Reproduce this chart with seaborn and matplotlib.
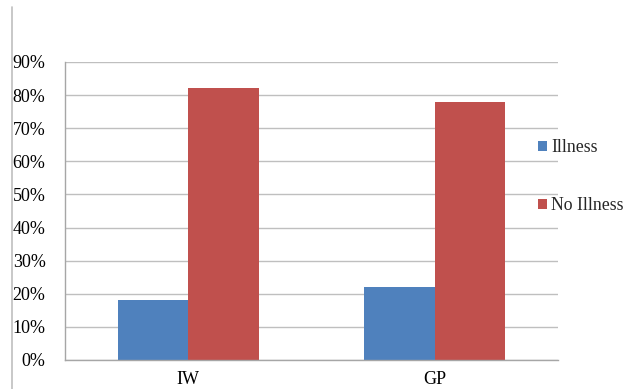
import matplotlib
matplotlib.use("Agg")
import matplotlib.pyplot as plt
from matplotlib.lines import Line2D
from matplotlib.ticker import FuncFormatter, MultipleLocator
import pandas as pd
import seaborn as sns

groups = ["IW", "GP"]
series = ["Illness", "No Illness"]
illness = [18, 22]
no_illness = [82, 78]
colors = ["#4F81BD", "#C0504D"]

df = pd.DataFrame({
    "group": groups * 2,
    "status": [series[0]] * 2 + [series[1]] * 2,
    "value": illness + no_illness,
})

sns.set_theme(style="white")
plt.rcParams["font.family"] = ["Liberation Serif", "DejaVu Serif"]

fig = plt.figure(figsize=(6.30, 3.89), dpi=100)
ax = fig.add_axes([65 / 630, 29 / 389, 493 / 630, 298 / 389])

sns.barplot(data=df, x="group", y="value", hue="status", palette=colors,
            width=0.57, gap=0, saturation=1, linewidth=0, ax=ax, legend=True)

ax.set_xlim(-0.5, 1.5)
ax.set_ylim(0, 90)
ax.yaxis.set_major_locator(MultipleLocator(10))
ax.yaxis.set_major_formatter(FuncFormatter(lambda v, _: f"{v:.0f}%"))
ax.grid(axis="y", color="#BFBFBF", linewidth=1)
ax.set_axisbelow(True)
ax.set_xlabel("")
ax.set_ylabel("")
for side in ["top", "right"]:
    ax.spines[side].set_visible(False)
for side in ["left", "bottom"]:
    ax.spines[side].set_color("#A6A6A6")
    ax.spines[side].set_linewidth(1)
ax.tick_params(axis="both", length=0, labelsize=13, colors="black")
ax.tick_params(axis="y", pad=14)
ax.tick_params(axis="x", pad=8)

ax.legend(loc="center left", bbox_to_anchor=(0.945, 0.615), frameon=False,
          fontsize=12.8, handlelength=0.5, handleheight=0.5,
          handletextpad=0.25, labelspacing=2.3, borderaxespad=0)

fig.add_artist(Line2D([12 / 630, 12 / 630], [0, 1 - 7 / 389],
                      transform=fig.transFigure, color="#BFBFBF", linewidth=1.2))

fig.savefig("out.png", dpi=100)
